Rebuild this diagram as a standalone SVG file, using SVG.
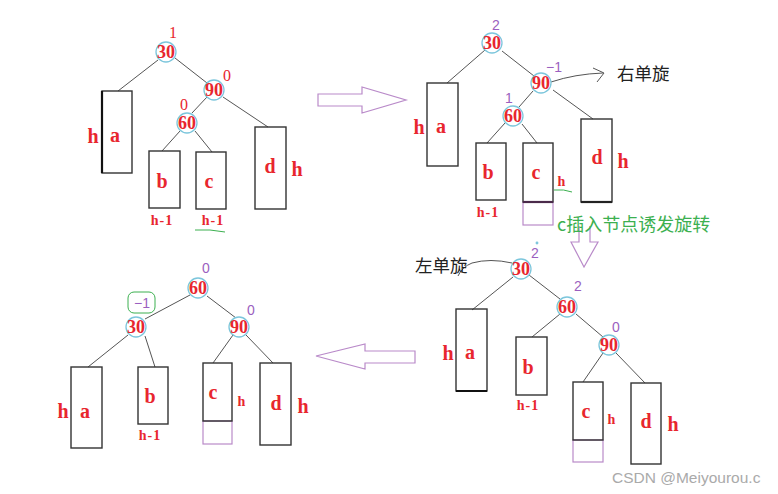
<svg xmlns="http://www.w3.org/2000/svg" width="778" height="494" viewBox="0 0 778 494">
<style>
.nd circle{fill:#fff;fill-opacity:0.4;stroke:#7cc6dc;stroke-width:1.3}
.nt{font-family:"Liberation Serif",serif;font-weight:bold;font-size:18px;fill:#e8262e;text-anchor:middle;dominant-baseline:central}
.lt{font-family:"Liberation Serif",serif;font-weight:bold;font-size:20px;fill:#e8262e;text-anchor:middle;dominant-baseline:central}
.hm{font-family:"Liberation Serif",serif;font-weight:bold;font-size:14px;fill:#e8262e;text-anchor:middle;dominant-baseline:central;letter-spacing:1px}
.bx{fill:none;stroke:#333;stroke-width:1.4}
.px{fill:none;stroke:#b98ac9;stroke-width:1.2}
.br{font-family:"Liberation Serif",serif;font-size:16px;fill:#e8262e;text-anchor:middle;dominant-baseline:central}
.bp{font-family:"Liberation Sans",sans-serif;font-size:14px;fill:#9b5fc0;text-anchor:middle;dominant-baseline:central}
.cn line,.cn path{stroke:#555;stroke-width:1;fill:none}
.ar{fill:#fff;stroke:#b98ac9;stroke-width:1.2}
.cj{font-family:"Noto Sans CJK SC",sans-serif;font-size:17.5px;fill:#222;dominant-baseline:central}
</style>

<!-- connectors -->
<g id="connectors" class="cn">
  <!-- Q1 -->
  <line x1="158" y1="60" x2="118" y2="91"/>
  <line x1="175" y1="58" x2="207" y2="83"/>
  <line x1="207" y1="97" x2="192" y2="113"/>
  <line x1="223" y1="97" x2="268" y2="127"/>
  <line x1="180" y1="131" x2="162" y2="151"/>
  <line x1="195" y1="131" x2="212" y2="152"/>
  <!-- Q2 -->
  <line x1="485" y1="50" x2="447" y2="83"/>
  <line x1="502" y1="51" x2="534" y2="76"/>
  <line x1="533" y1="91" x2="519" y2="107"/>
  <line x1="553" y1="90" x2="593" y2="119"/>
  <line x1="505" y1="123" x2="487" y2="143"/>
  <line x1="522" y1="124" x2="537" y2="143"/>
  <path d="M551 82 Q575 74 603 73" stroke="#333"/>
  <path d="M593 68 L604 73 L597 82" stroke="#333"/>
  <!-- Q3 -->
  <line x1="513" y1="277" x2="472" y2="310"/>
  <line x1="529" y1="275" x2="560" y2="299"/>
  <line x1="560" y1="314" x2="532" y2="337"/>
  <line x1="576" y1="314" x2="603" y2="337"/>
  <line x1="603" y1="353" x2="583" y2="382"/>
  <line x1="616" y1="353" x2="645" y2="383"/>
  <path d="M512 263 Q490 258 472 263 Q462 267 458 276" stroke="#333"/>
  <!-- Q4 -->
  <line x1="190" y1="295" x2="145" y2="319"/>
  <line x1="207" y1="296" x2="236" y2="318"/>
  <line x1="128" y1="335" x2="88" y2="367"/>
  <line x1="145" y1="336" x2="155" y2="367"/>
  <line x1="233" y1="335" x2="213" y2="363"/>
  <line x1="246" y1="335" x2="273" y2="363"/>
</g>

<!-- big arrows -->
<g id="arrows">
  <path class="ar" d="M318 94 H362 V87 L406 100 L362 113 V106 H318 Z"/>
  <path class="ar" d="M579 226 V242 H571 L584 267 L598 242 H590 V226"/>
  <path class="ar" d="M415 351 H365 V344 L316 356 L365 369 V363 H415 Z"/>
</g>

<!-- Q1 -->
<g id="q1-n30" class="nd"><circle cx="166" cy="52" r="10"/><text class="nt" x="166" y="52">30</text><text class="br" x="173" y="32">1</text></g>
<g id="q1-n90" class="nd"><circle cx="214" cy="90" r="10"/><text class="nt" x="214" y="90">90</text><text class="br" x="227" y="75">0</text></g>
<g id="q1-n60" class="nd"><circle cx="187" cy="123" r="10"/><text class="nt" x="187" y="123">60</text><text class="br" x="184" y="104">0</text></g>
<g id="q1-a"><rect class="bx" x="102" y="91" width="30" height="82"/><line x1="102" y1="91" x2="102" y2="173" stroke="#111" stroke-width="2.2"/><text class="lt" x="93" y="136">h</text><text class="lt" x="115" y="135">a</text></g>
<g id="q1-b"><rect class="bx" x="149" y="151" width="31" height="57"/><text class="lt" x="162" y="181">b</text><text class="hm" x="162" y="220">h-1</text></g>
<g id="q1-c"><rect class="bx" x="196" y="152" width="30" height="57"/><text class="lt" x="209" y="181">c</text><text class="hm" x="213" y="220">h-1</text><path d="M195 230 Q210 229 225 232" stroke="#3cb050" stroke-width="1" fill="none"/></g>
<g id="q1-d"><rect class="bx" x="255" y="127" width="31" height="82"/><text class="lt" x="270" y="166">d</text><text class="lt" x="297" y="169">h</text></g>

<!-- Q2 -->
<g id="q2-n30" class="nd"><circle cx="492" cy="43" r="10"/><text class="nt" x="492" y="43">30</text><text class="bp" x="496" y="25">2</text></g>
<g id="q2-n90" class="nd"><circle cx="541" cy="83" r="10"/><text class="nt" x="541" y="83">90</text><text class="bp" x="554" y="67">−1</text></g>
<g id="q2-n60" class="nd"><circle cx="513" cy="116" r="10"/><text class="nt" x="513" y="116">60</text><text class="bp" x="509" y="98">1</text></g>
<g id="q2-a"><rect class="bx" x="427" y="83" width="31" height="83"/><text class="lt" x="419" y="127">h</text><text class="lt" x="441" y="126">a</text></g>
<g id="q2-b"><rect class="bx" x="476" y="143" width="30" height="57"/><text class="lt" x="488" y="172">b</text><text class="hm" x="488" y="212">h-1</text></g>
<g id="q2-c"><rect class="px" x="523" y="202" width="30" height="23"/><rect class="bx" x="523" y="143" width="30" height="59"/><line x1="523" y1="202" x2="553" y2="202" stroke="#4a2a4a" stroke-width="2.2"/><text class="lt" x="536" y="172">c</text><text class="hm" x="562" y="181">h</text><path d="M554 190 Q564 189 572 192" stroke="#3cb050" stroke-width="1" fill="none"/></g>
<g id="q2-d"><rect class="bx" x="581" y="119" width="31" height="83"/><line x1="581" y1="202" x2="612" y2="202" stroke="#222" stroke-width="2.2"/><text class="lt" x="597" y="157">d</text><text class="lt" x="623" y="161">h</text></g>
<text class="cj" x="617" y="72">右单旋</text>
<text class="cj" x="557" y="223" style="fill:#3cb050;font-size:18px">c插入节点诱发旋转</text>

<!-- Q3 -->
<g id="q3-n30" class="nd"><circle cx="521" cy="269" r="10"/><text class="nt" x="521" y="269">30</text><text class="bp" x="535" y="253">2</text><circle cx="537" cy="243" r="0.8" fill="#9b5fc0" stroke="none"/></g>
<g id="q3-n60" class="nd"><circle cx="567" cy="307" r="10"/><text class="nt" x="567" y="307">60</text><text class="bp" x="578" y="286">2</text></g>
<g id="q3-n90" class="nd"><circle cx="609" cy="345" r="10"/><text class="nt" x="609" y="345">90</text><text class="bp" x="616" y="327">0</text></g>
<g id="q3-a"><rect class="bx" x="456" y="309" width="31" height="82"/><line x1="456" y1="391" x2="487" y2="391" stroke="#111" stroke-width="2"/><text class="lt" x="448" y="353">h</text><text class="lt" x="470" y="352">a</text></g>
<g id="q3-b"><rect class="bx" x="516" y="337" width="31" height="58"/><text class="lt" x="528" y="367">b</text><text class="hm" x="528" y="405">h-1</text></g>
<g id="q3-c"><rect class="px" x="573" y="440" width="30" height="22"/><rect class="bx" x="573" y="382" width="30" height="58"/><text class="lt" x="586" y="411">c</text><text class="hm" x="612" y="419">h</text></g>
<g id="q3-d"><rect class="bx" x="631" y="383" width="30" height="81"/><text class="lt" x="646" y="421">d</text><text class="lt" x="673" y="424">h</text></g>
<text class="cj" x="415" y="264">左单旋</text>

<!-- Q4 -->
<g id="q4-n60" class="nd"><circle cx="198" cy="288" r="10"/><text class="nt" x="198" y="288">60</text><text class="bp" x="206" y="268">0</text></g>
<g id="q4-n30" class="nd"><circle cx="136" cy="327" r="10"/><text class="nt" x="136" y="327">30</text><rect x="128" y="292" width="27" height="21" rx="6" fill="none" stroke="#3cb050" stroke-width="1"/><text class="bp" x="142" y="303">−1</text></g>
<g id="q4-n90" class="nd"><circle cx="239" cy="327" r="10"/><text class="nt" x="239" y="327">90</text><text class="bp" x="251" y="310">0</text></g>
<g id="q4-a"><rect class="bx" x="71" y="367" width="31" height="81"/><text class="lt" x="63" y="411">h</text><text class="lt" x="85" y="411">a</text></g>
<g id="q4-b"><rect class="bx" x="138" y="367" width="30" height="57"/><text class="lt" x="150" y="396">b</text><text class="hm" x="150" y="435">h-1</text></g>
<g id="q4-c"><rect class="px" x="203" y="421" width="29" height="23"/><rect class="bx" x="203" y="363" width="29" height="58"/><text class="lt" x="213" y="392">c</text><text class="hm" x="242" y="401">h</text></g>
<g id="q4-d"><rect class="bx" x="260" y="363" width="31" height="82"/><text class="lt" x="276" y="403">d</text><text class="lt" x="303" y="406">h</text></g>

<text x="612" y="477" font-family="Liberation Sans,sans-serif" font-size="15.5" fill="#aaa" dominant-baseline="central">CSDN @Meiyourou.c</text>
</svg>
